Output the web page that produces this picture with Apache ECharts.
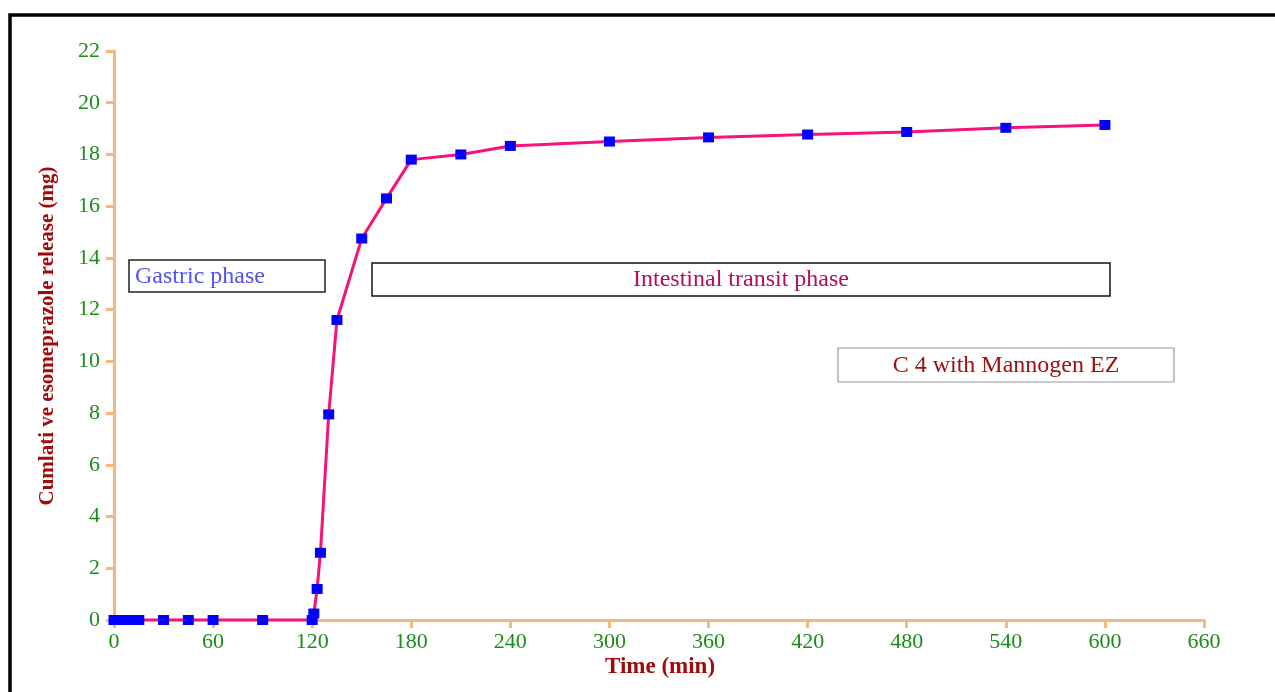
<!DOCTYPE html>
<html>
<head>
<meta charset="utf-8">
<script src="https://cdn.jsdelivr.net/npm/echarts@6/dist/echarts.min.js"></script>
<style>
html,body{margin:0;padding:0;background:#fff;}
#c{width:1275px;height:692px;}
</style>
</head>
<body>
<div id="c"></div>
<script>
// Data
var times = [0, 5, 10, 15, 30, 45, 60, 90, 120, 121, 123, 125, 130, 135, 150, 165, 180, 210, 240, 300, 360, 420, 480, 540, 600];
var release = [0, 0, 0, 0, 0, 0, 0, 0, 0, 0.25, 1.2, 2.6, 7.95, 11.6, 14.75, 16.3, 17.8, 18.0, 18.33, 18.5, 18.66, 18.77, 18.87, 19.03, 19.14];
var xTicks = [0, 60, 120, 180, 240, 300, 360, 420, 480, 540, 600, 660];
var yTicks = [0, 2, 4, 6, 8, 10, 12, 14, 16, 18, 20, 22];
var xTitle = 'Time (min)';
var yTitle = 'Cumlati ve esomeprazole release (mg)';
var boxGastric = 'Gastric phase';
var boxIntestinal = 'Intestinal transit phase';
var boxLegend = 'C 4 with Mannogen EZ';

var seriesData = times.map(function (t, i) { return [t, release[i]]; });

var FONT = '"Liberation Serif", "Times New Roman", serif';
var axisColor = '#f5b77c';
var labelColor = '#1a8c1a';
var titleColor = '#a00a0a';

var chart = echarts.init(document.getElementById('c'), null, { renderer: 'canvas' });
chart.setOption({
  animation: false,
  backgroundColor: '#ffffff',
  grid: { left: 114, right: 71, top: 51, bottom: 72, containLabel: false },
  xAxis: {
    type: 'value',
    min: xTicks[0], max: xTicks[xTicks.length - 1], interval: 60,
    axisLine: { show: true, onZero: false, lineStyle: { color: axisColor, width: 3 } },
    axisTick: { show: true, inside: false, length: 8, lineStyle: { color: axisColor, width: 3 } },
    axisLabel: { color: labelColor, fontFamily: FONT, fontSize: 22, margin: 11 },
    splitLine: { show: false }
  },
  yAxis: {
    type: 'value',
    min: yTicks[0], max: yTicks[yTicks.length - 1], interval: 2,
    axisLine: { show: true, onZero: false, lineStyle: { color: axisColor, width: 3 } },
    axisTick: { show: true, inside: false, length: 8, lineStyle: { color: axisColor, width: 3 } },
    axisLabel: { color: labelColor, fontFamily: FONT, fontSize: 22, margin: 14 },
    splitLine: { show: false }
  },
  series: [{
    type: 'line',
    data: seriesData,
    symbol: 'rect',
    symbolSize: [11, 10],
    showAllSymbol: true,
    itemStyle: { color: '#0000ff', borderWidth: 0 },
    lineStyle: { color: '#f5137a', width: 3 },
    z: 5
  }],
  graphic: [
    { type: 'rect', shape: { x: 10, y: 15, width: 1300, height: 720 }, style: { fill: 'none', stroke: '#000', lineWidth: 3.5 }, z: 100 },
    { type: 'rect', shape: { x: 129, y: 260, width: 196, height: 32 }, style: { fill: '#fff', stroke: '#222', lineWidth: 1.5 }, z: 10 },
    { type: 'text', x: 135, y: 277, style: { text: boxGastric, font: '24px ' + FONT, fill: '#5252ee', textVerticalAlign: 'middle', textAlign: 'left' }, z: 11 },
    { type: 'rect', shape: { x: 372, y: 263, width: 738, height: 33 }, style: { fill: '#fff', stroke: '#111', lineWidth: 1.5 }, z: 10 },
    { type: 'text', x: 741, y: 280, style: { text: boxIntestinal, font: '24px ' + FONT, fill: '#b0105a', textVerticalAlign: 'middle', textAlign: 'center' }, z: 11 },
    { type: 'rect', shape: { x: 838, y: 348, width: 336, height: 34 }, style: { fill: '#fff', stroke: '#999', lineWidth: 1.2 }, z: 10 },
    { type: 'text', x: 1006, y: 366, style: { text: boxLegend, font: '24px ' + FONT, fill: '#a01010', textVerticalAlign: 'middle', textAlign: 'center' }, z: 11 },
    { type: 'text', x: 660, y: 667, style: { text: xTitle, font: 'bold 23px ' + FONT, fill: titleColor, textVerticalAlign: 'middle', textAlign: 'center' }, z: 11 },
    { type: 'text', x: 48, y: 336, rotation: Math.PI / 2, style: { text: yTitle, font: 'bold 21px ' + FONT, fill: titleColor, textVerticalAlign: 'middle', textAlign: 'center' }, z: 11 }
  ]
});
</script>
</body>
</html>
